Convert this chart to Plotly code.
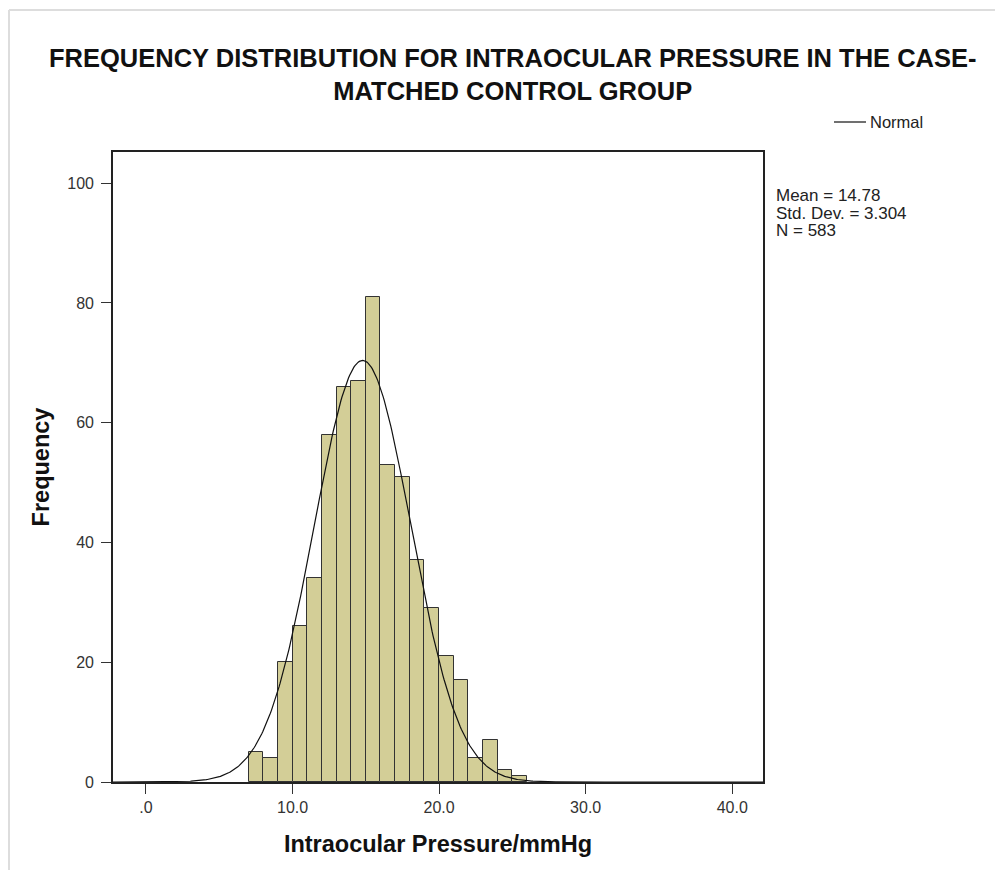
import numpy as np
import plotly.graph_objects as go

# ---- data ----
BIN_LEFT_EDGES = [7, 8, 9, 10, 11, 12, 13, 14, 15, 16, 17, 18, 19, 20, 21, 22, 23, 24, 25]
COUNTS = [5, 4, 20, 26, 34, 58, 66, 67, 81, 53, 51, 37, 29, 21, 17, 4, 7, 2, 1]
BIN_WIDTH = 1.0
MEAN = 14.78
STD_DEV = 3.304
N = 583
X_TICKS = [0, 10, 20, 30, 40]
X_TICK_LABELS = [".0", "10.0", "20.0", "30.0", "40.0"]
Y_TICKS = [0, 20, 40, 60, 80, 100]
TITLE_LINES = ["FREQUENCY DISTRIBUTION FOR INTRAOCULAR PRESSURE IN THE CASE-",
               "MATCHED CONTROL GROUP"]
X_TITLE = "Intraocular Pressure/mmHg"
Y_TITLE = "Frequency"
STATS_LINES = [f"Mean = {MEAN}", f"Std. Dev. = {STD_DEV}", f"N = {N}"]

# ---- layout geometry (screen pixels; page body has an 8px default margin) ----
OFF = 8
W, H = 1003 - OFF, 870 - OFF
PL, PR, PT, PB = 113 - OFF, 763 - OFF, 152 - OFF, 782 - OFF
X_RANGE = [-2.25, 42.1]
Y_RANGE = [0, 105.2]

def px(x):
    return (x - OFF - PL) / (PR - PL)

def py(y):
    return (PB - (y - OFF)) / (PB - PT)

FONT = "Liberation Sans, Arial, sans-serif"

centers = [e + BIN_WIDTH / 2 for e in BIN_LEFT_EDGES]

xs = np.linspace(X_RANGE[0], X_RANGE[1], 600)
ys = N * BIN_WIDTH / (STD_DEV * np.sqrt(2 * np.pi)) * np.exp(-0.5 * ((xs - MEAN) / STD_DEV) ** 2)

fig = go.Figure()
fig.add_trace(go.Bar(
    x=centers, y=COUNTS, width=BIN_WIDTH,
    marker=dict(color="#D3CE97", line=dict(color="#333333", width=1)),
    showlegend=False, hoverinfo="x+y",
))
fig.add_trace(go.Scatter(
    x=xs, y=ys, mode="lines", name="Normal",
    line=dict(color="#111111", width=1.2), showlegend=False,
))

axis_common = dict(
    showgrid=False, zeroline=False, showline=True, linecolor="#222222", linewidth=1.6,
    mirror=True, ticks="outside", ticklen=10, tickwidth=1.4, tickcolor="#333333",
    tickfont=dict(family=FONT, size=16, color="#333333"),
)

fig.update_layout(
    width=W, height=H,
    margin=dict(l=PL, r=W - PR, t=PT, b=H - PB, autoexpand=False),
    paper_bgcolor="white", plot_bgcolor="white",
    bargap=0,
    xaxis=dict(range=X_RANGE, tickvals=X_TICKS, ticktext=X_TICK_LABELS,
               title=dict(text="<b>" + X_TITLE + "</b>", font=dict(family=FONT, size=23.5, color="#111111"), standoff=21),
               **axis_common),
    yaxis=dict(range=Y_RANGE, tickvals=Y_TICKS, ticklabelstandoff=4,
               title=dict(text="<b>" + Y_TITLE + "</b>", font=dict(family=FONT, size=23.5, color="#111111"), standoff=11),
               **axis_common),
)

annotations = []
# title (two lines, one text block)
annotations.append(dict(text="<b>" + "<br>".join(TITLE_LINES) + "</b>", x=px(513), y=py(74), xref="paper", yref="paper",
                        xanchor="center", yanchor="middle", showarrow=False,
                        font=dict(family=FONT, size=25.5, color="#111111")))
# legend
annotations.append(dict(text="Normal", x=px(868), y=py(122), xref="paper", yref="paper",
                        xanchor="left", yanchor="middle", showarrow=False,
                        font=dict(family=FONT, size=16.5, color="#222222")))
# stats
for text, yc in zip(STATS_LINES, [195.7, 213.0, 230.0]):
    annotations.append(dict(text=text, x=px(774), y=py(yc), xref="paper", yref="paper",
                            xanchor="left", yanchor="middle", showarrow=False,
                            font=dict(family=FONT, size=17, color="#222222")))
fig.update_layout(annotations=annotations)

shapes = [
    # legend line sample
    dict(type="line", xref="paper", yref="paper", x0=px(834), x1=px(866), y0=py(122), y1=py(122),
         line=dict(color="#222222", width=1.3)),
    # page border (top and left)
    dict(type="line", xref="paper", yref="paper", x0=px(9), x1=px(1003), y0=py(10), y1=py(10),
         line=dict(color="#DDDDDD", width=2)),
    dict(type="line", xref="paper", yref="paper", x0=px(9), x1=px(9), y0=py(10), y1=py(870),
         line=dict(color="#DDDDDD", width=2)),
]
fig.update_layout(shapes=shapes)

fig.write_html("out.html")
